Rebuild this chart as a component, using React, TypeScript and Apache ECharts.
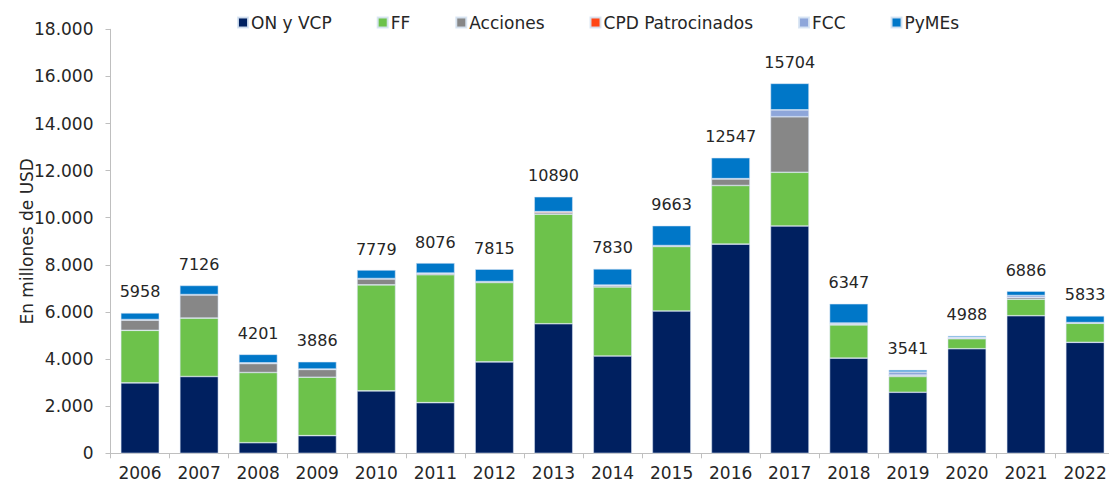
import React, { useEffect, useRef } from "react";
import * as echarts from "echarts";

const years = ["2006", "2007", "2008", "2009", "2010", "2011", "2012", "2013", "2014", "2015", "2016", "2017", "2018", "2019", "2020", "2021", "2022"];
const onVcp = [2990, 3260, 450, 750, 2650, 2150, 3880, 5500, 4130, 6040, 8880, 9650, 4040, 2590, 4440, 5840, 4710];
const ff = [2230, 2480, 2980, 2480, 4500, 5430, 3370, 4650, 2930, 2740, 2490, 2280, 1410, 670, 420, 700, 810];
const acciones = [430, 980, 380, 330, 250, 60, 30, 60, 50, 30, 280, 2360, 40, 60, 30, 80, 20];
const cpd = [30, 20, 30, 20, 20, 10, 10, 50, 30, 0, 10, 0, 0, 0, 0, 0, 0];
const fcc = [0, 0, 0, 0, 0, 0, 0, 0, 0, 10, 0, 290, 40, 130, 40, 80, 10];
const pymes = [278, 386, 361, 306, 359, 426, 525, 630, 690, 843, 887, 1124, 817, 91, 58, 186, 283];
const totals = [5958, 7126, 4201, 3886, 7779, 8076, 7815, 10890, 7830, 9663, 12547, 15704, 6347, 3541, 4988, 6886, 5833];

const seriesNames = ["ON y VCP", "FF", "Acciones", "CPD Patrocinados", "FCC", "PyMEs"];
const seriesColors = ["#002060", "#6DC24B", "#878787", "#FF4616", "#8EA6DA", "#0077C8"];
const seriesData = [onVcp, ff, acciones, cpd, fcc, pymes];

const FONT = "DejaVu Sans";

export default function App() {
  const ref = useRef<HTMLDivElement>(null);
  useEffect(() => {
    if (!ref.current) return;
    const chart = echarts.init(ref.current, undefined, { renderer: "svg" });
    const series = seriesData.map((d, i) => ({
      name: seriesNames[i],
      type: "bar",
      stack: "total",
      barWidth: 38.5,
      data: d,
      itemStyle: {
        color: seriesColors[i],
        borderColor: "rgba(215,228,243,0.9)",
        borderWidth: 0.6,
      },
      label:
        i === seriesData.length - 1
          ? {
              show: true,
              position: "top",
              distance: 13,
              fontFamily: FONT,
              fontSize: 16,
              color: "#262626",
              formatter: (p: any) => String(totals[p.dataIndex]),
            }
          : { show: false },
    }));
    chart.setOption({
      animation: false,
      textStyle: { fontFamily: FONT },
      legend: {
        left: 237,
        top: 14,
        padding: 0,
        itemWidth: 10,
        itemHeight: 10,
        itemGap: 45,
        icon: "rect",
        textStyle: { fontFamily: FONT, fontSize: 17, color: "#262626", padding: [0, 0, 0, -2] },
        data: seriesNames,
      },
      grid: {
        left: 110.5,
        right: -5.6,
        top: 29.3,
        bottom: 29.7,
        containLabel: false,
        outerBoundsMode: "none",
      },
      xAxis: {
        type: "category",
        data: years,
        axisLine: { lineStyle: { color: "#BFBFBF", width: 1 } },
        axisTick: { show: true, length: 5, alignWithLabel: false, lineStyle: { color: "#BFBFBF" } },
        axisLabel: { fontFamily: FONT, fontSize: 17, color: "#262626", margin: 11, interval: 0 },
      },
      yAxis: {
        type: "value",
        min: 0,
        max: 18000,
        interval: 2000,
        name: "En millones de USD",
        nameLocation: "middle",
        nameGap: 75,
        nameMoveOverlap: false,
        nameTextStyle: { fontFamily: FONT, fontSize: 17, color: "#262626" },
        splitLine: { show: false },
        axisLine: { show: true, lineStyle: { color: "#BFBFBF", width: 1 } },
        axisTick: { show: true, length: 5, lineStyle: { color: "#BFBFBF" } },
        axisLabel: {
          fontFamily: FONT,
          fontSize: 17,
          color: "#262626",
          margin: 17,
          formatter: (v: number) => (v === 0 ? "0" : v.toString().replace(/\B(?=(\d{3})+(?!\d))/g, ".")),
        },
      },
      series,
    });
    return () => chart.dispose();
  }, []);
  return (
    <div
      ref={ref}
      style={{ position: "fixed", left: 0, top: 0, width: 1109, height: 483, background: "#fff" }}
    />
  );
}
